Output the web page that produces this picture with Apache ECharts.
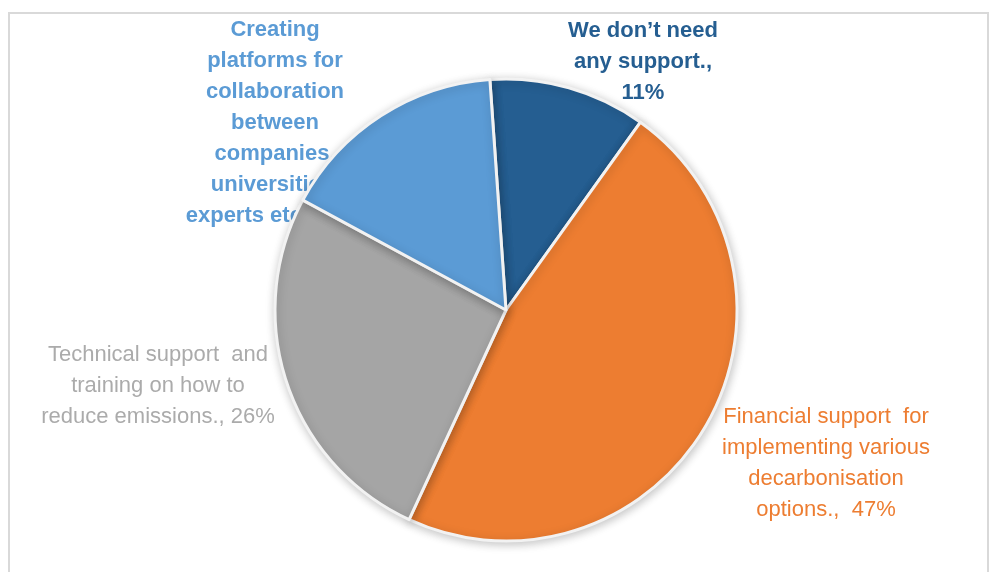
<!DOCTYPE html>
<html>
<head>
<meta charset="utf-8">
<script src="https://cdn.jsdelivr.net/npm/echarts@6/dist/echarts.min.js"></script>
<style>
  html, body { margin: 0; padding: 0; background: #ffffff; }
  #chart { width: 991px; height: 572px; }
</style>
</head>
<body>
<div id="chart"></div>
<script>
// Survey answers: what support companies need to decarbonise
const categories = [
  "We don\u2019t need\nany support.,",
  "Financial support  for\nimplementing various\ndecarbonisation\noptions., ",
  "Technical support  and\ntraining on how to\nreduce emissions., ",
  "Creating\nplatforms for\ncollaboration\nbetween\ncompanies,\nuniversities,\nexperts etc., "
];
const shares = [11, 47, 26, 16];
const sliceColors = ["#255E91", "#ED7D31", "#A5A5A5", "#5B9BD5"];
const labelColors = ["#255E91", "#ED7D31", "#ABABAB", "#5B9BD5"];
const labelWeights = ["bold", "normal", "normal", "bold"];
// label anchor points (centre of each text block)
const labelSpots = [[643, 62], [826, 463], [158, 386], [275, 123]];

const pieCenter = [506, 310];
const pieRadius = 231;
const startAngle = 94;

const chart = echarts.init(document.getElementById('chart'), null, { renderer: 'canvas' });

const data = categories.map((name, i) => ({
  name: name,
  value: shares[i],
  itemStyle: { color: sliceColors[i] },
  label: {
    color: labelColors[i],
    fontWeight: labelWeights[i],
    formatter: (p) => {
      const sep = i === 0 ? "\n" : (i === 1 ? " " : "");
      return p.name + sep + p.value + "%";
    }
  }
}));

chart.setOption({
  animation: false,
  backgroundColor: '#ffffff',
  graphic: [{
    type: 'rect',
    shape: { x: 9, y: 13, width: 979, height: 600 },
    style: { fill: 'none', stroke: '#d9d9d9', lineWidth: 2 },
    z: 0,
    silent: true
  }],
  series: [
    {
      // text layer, drawn underneath the slices
      type: 'pie',
      z: 1,
      center: pieCenter,
      radius: pieRadius,
      startAngle: startAngle,
      clockwise: true,
      data: data,
      itemStyle: { color: 'rgba(0,0,0,0)', borderWidth: 0 },
      label: {
        show: true,
        position: 'outside',
        fontFamily: 'Liberation Sans, Arial, sans-serif',
        fontSize: 22,
        lineHeight: 31,
        align: 'center',
        overflow: 'none',
        width: 400
      },
      labelLine: { show: false },
      labelLayout: (params) => {
        const s = labelSpots[params.dataIndex];
        return { x: s[0], y: s[1], align: 'center', verticalAlign: 'middle', hideOverlap: false };
      },
      silent: true
    },
    {
      type: 'pie',
      z: 2,
      center: pieCenter,
      radius: pieRadius,
      startAngle: startAngle,
      clockwise: true,
      data: categories.map((name, i) => ({ name: name, value: shares[i], itemStyle: { color: sliceColors[i] } })),
      label: { show: false },
      labelLine: { show: false },
      itemStyle: {
        borderColor: '#f2f2f2',
        borderWidth: 3,
        shadowBlur: 10,
        shadowColor: 'rgba(0,0,0,0.22)',
        shadowOffsetX: 1,
        shadowOffsetY: 2
      }
    }
  ]
});
</script>
</body>
</html>
